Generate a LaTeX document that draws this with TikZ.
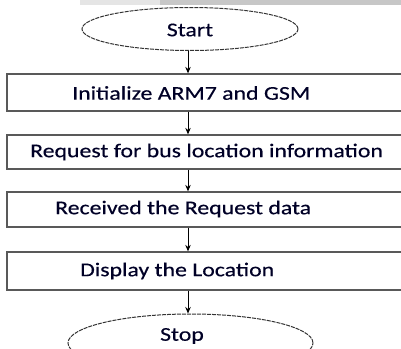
\documentclass[tikz,border=0pt]{standalone}
\usepackage{fontspec}
\setmainfont{Carlito}[FakeStretch=1.22,FakeBold=0.4]
\usetikzlibrary{shapes.geometric,arrows.meta}
\begin{document}
\begin{tikzpicture}[x=1pt,y=-1pt,
  term/.style={draw=black!80,dashed,dash pattern=on 4pt off 1pt,line width=1pt,ellipse,inner sep=0pt},
  stepbox/.style={draw=black!65,line width=1.3pt,rectangle,inner sep=0pt,minimum width=403pt},
  txt/.style={font=\fontsize{19.5}{21}\selectfont,text=black!85!blue,inner sep=0pt},
  lbl/.style={txt,anchor=west},
  flow/.style={draw=black,line width=0.9pt,-{Stealth[length=6.5pt,width=5.5pt]}}]
\useasboundingbox (0,0) rectangle (401,348);
\clip (0,0) rectangle (401,348);
% grey band along the top edge
\fill[black!22] (80,0) rectangle (401,4.5);
\fill[black!10] (80,0) rectangle (160,4.5);
% terminals
\node[term,minimum width=216pt,minimum height=43pt] (start) at (190,29) {};
\node[txt] (tstart) at (190,30) {Start};
\node[term,minimum width=245pt,minimum height=58pt] (stop) at (190.5,343) {};
\node[txt] (tstop) at (182,336) {Stop};
% process steps
\node[stepbox,minimum height=37pt] (b1) at (208.5,92.5) {};
\node[stepbox,minimum height=34pt] (b2) at (208.5,152) {};
\node[stepbox,minimum height=35pt] (b3) at (208.5,209.5) {};
\node[stepbox,minimum height=38pt] (b4) at (208.5,271) {};
\node[lbl] (t1) at (72,93) {Initialize ARM7 and GSM};
\node[lbl] (t2) at (30,152) {Request for bus location information};
\node[lbl] (t3) at (55,209) {Received the Request data};
\node[lbl] (t4) at (80,271) {Display the Location};
% connectors along the main axis
\coordinate (axis) at (188,0);
\draw[flow] (start.south -| axis) -- (b1.north -| axis);
\draw[flow] (b1.south -| axis) -- (b2.north -| axis);
\draw[flow] (b2.south -| axis) -- (b3.north -| axis);
\draw[flow] (b3.south -| axis) -- (b4.north -| axis);
\draw[flow] (b4.south -| axis) -- (stop.north -| axis);
\end{tikzpicture}
\end{document}
